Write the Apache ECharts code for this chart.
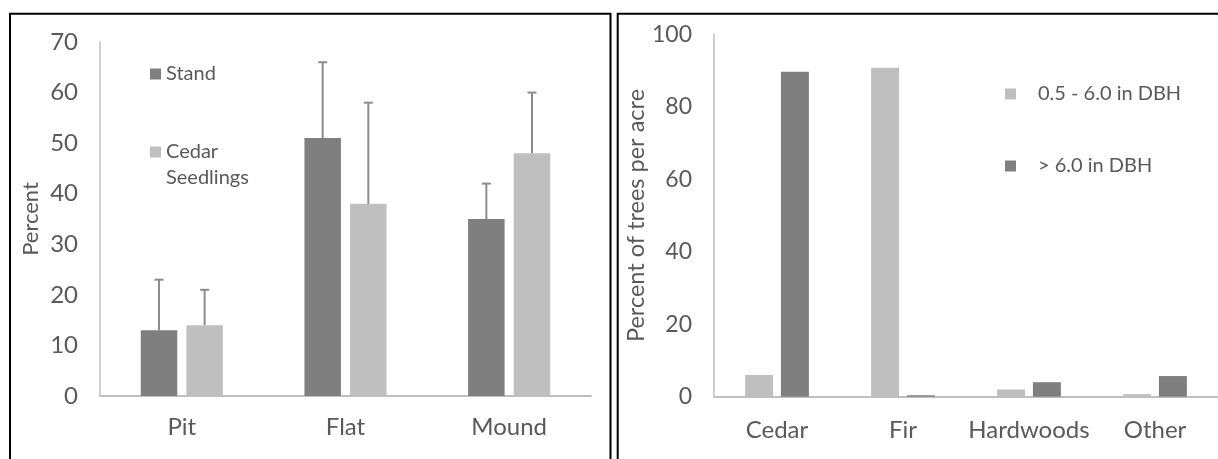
<!DOCTYPE html>
<html>
<head>
<meta charset="utf-8">
<script src="https://cdn.jsdelivr.net/npm/echarts@6/dist/echarts.min.js"></script>
<style>
  html, body { margin: 0; padding: 0; background: #fff; }
  #chart { width: 1218px; height: 459px; }
</style>
</head>
<body>
<div id="chart"></div>
<script>
// Microsite position: share of stand vs. cedar seedlings (with upper error limits)
const surfaceCats = ['Pit', 'Flat', 'Mound'];
const standPct = [13, 51, 35];
const standUpper = [23, 66, 42];
const seedlingPct = [14, 38, 48];
const seedlingUpper = [21, 58, 60];
const surfaceAxis = { min: 0, max: 70, interval: 10 };

// Species composition by diameter class
const speciesCats = ['Cedar', 'Fir', 'Hardwoods', 'Other'];
const smallDbhPct = [6, 90.8, 2, 0.7];
const largeDbhPct = [89.7, 0.4, 4, 5.7];
const speciesAxis = { min: 0, max: 100, interval: 20 };

const DARK = '#7f7f7f';
const LIGHT = '#bfbfbf';
const TEXT = '#595959';
const AXIS = '#bfbfbf';
const FONT = 'Lato';

const LEFT_BAR = 0.223, LEFT_GAP = 0.25;
const RIGHT_BAR = 0.222, RIGHT_GAP = 0.28;

// Upward-only error bar, placed over the matching bar of a two-bar group
function errorBars(name, values, upper, side) {
  return {
    type: 'custom',
    name: name + ' error',
    xAxisIndex: 0,
    yAxisIndex: 0,
    z: 5,
    silent: true,
    data: values.map((v, i) => [i, v, upper[i]]),
    renderItem(params, api) {
      const band = api.size([1, 0])[0];
      const bw = band * LEFT_BAR;
      const off = side * (bw + bw * LEFT_GAP) / 2;
      const base = api.coord([api.value(0), api.value(1)]);
      const top = api.coord([api.value(0), api.value(2)]);
      const x = base[0] + off;
      const st = { stroke: '#8c8c8c', lineWidth: 2 };
      return {
        type: 'group',
        children: [
          { type: 'line', shape: { x1: x, y1: base[1], x2: x, y2: top[1] }, style: st },
          { type: 'line', shape: { x1: x - 4.5, y1: top[1], x2: x + 4.5, y2: top[1] }, style: st }
        ]
      };
    }
  };
}

function valueAxis(gridIndex, cfg, name, fontSize, nameSize, nameGap) {
  return {
    type: 'value',
    gridIndex,
    min: cfg.min,
    max: cfg.max,
    interval: cfg.interval,
    name,
    nameLocation: 'middle',
    nameGap,
    nameTextStyle: { color: TEXT, fontSize: nameSize, fontFamily: FONT },
    axisLine: { show: true, lineStyle: { color: AXIS, width: 1.5 } },
    axisTick: { show: false },
    splitLine: { show: false },
    axisLabel: { color: TEXT, fontSize, fontFamily: FONT, margin: 22 }
  };
}

function catAxis(gridIndex, cats, margin) {
  return {
    type: 'category',
    gridIndex,
    data: cats,
    axisLine: { show: true, lineStyle: { color: AXIS, width: 2 } },
    axisTick: { show: false },
    axisLabel: { color: TEXT, fontSize: 24, fontFamily: FONT, margin, lineHeight: 28, interval: 0 }
  };
}

function legendItem(name, left, top, fontSize, lineHeight, extra) {
  return Object.assign({
    data: [name],
    left, top,
    orient: 'vertical',
    padding: 0,
    itemWidth: 11,
    itemHeight: 11,
    icon: 'rect',
    textStyle: { color: TEXT, fontSize, fontFamily: FONT, lineHeight }
  }, extra || {});
}

const chart = echarts.init(document.getElementById('chart'), null, { renderer: 'canvas' });

chart.setOption({
  animation: false,
  backgroundColor: '#fff',
  grid: [
    { left: 100, top: 42, width: 491, height: 354 },
    { left: 714, top: 34.3, width: 504, height: 362.4 }
  ],
  xAxis: [catAxis(0, surfaceCats, 17), catAxis(1, speciesCats, 20)],
  yAxis: [
    valueAxis(0, surfaceAxis, 'Percent', 24, 22, 58),
    valueAxis(1, speciesAxis, 'Percent of trees per acre', 23, 23.5, 59)
  ],
  legend: [
    legendItem('Stand', 150, 63, 20, 22),
    legendItem('Cedar Seedlings', 150, 113, 20, 26, {
      formatter: () => '\nCedar\nSeedlings'
    }),
    legendItem('0.5 - 6.0 in DBH', 1005, 82, 20, 24, {
      textStyle: { color: TEXT, fontSize: 20, fontFamily: FONT, lineHeight: 24, padding: [0, 0, 0, 17] }
    }),
    legendItem('> 6.0 in DBH', 1005, 154, 20, 24, {
      textStyle: { color: TEXT, fontSize: 20, fontFamily: FONT, lineHeight: 24, padding: [0, 0, 0, 17] }
    })
  ],
  series: [
    {
      type: 'bar', name: 'Stand', xAxisIndex: 0, yAxisIndex: 0,
      data: standPct, barWidth: (LEFT_BAR * 100) + '%', barGap: (LEFT_GAP * 100) + '%',
      itemStyle: { color: DARK }
    },
    {
      type: 'bar', name: 'Cedar Seedlings', xAxisIndex: 0, yAxisIndex: 0,
      data: seedlingPct, barWidth: (LEFT_BAR * 100) + '%', barGap: (LEFT_GAP * 100) + '%',
      itemStyle: { color: LIGHT }
    },
    errorBars('Stand', standPct, standUpper, -1),
    errorBars('Cedar Seedlings', seedlingPct, seedlingUpper, 1),
    {
      type: 'bar', name: '0.5 - 6.0 in DBH', xAxisIndex: 1, yAxisIndex: 1,
      data: smallDbhPct, barWidth: (RIGHT_BAR * 100) + '%', barGap: (RIGHT_GAP * 100) + '%',
      itemStyle: { color: LIGHT }
    },
    {
      type: 'bar', name: '> 6.0 in DBH', xAxisIndex: 1, yAxisIndex: 1,
      data: largeDbhPct, barWidth: (RIGHT_BAR * 100) + '%', barGap: (RIGHT_GAP * 100) + '%',
      itemStyle: { color: DARK }
    }
  ],
  graphic: [
    {
      type: 'rect', z: 100, silent: true,
      shape: { x: 10, y: 13.7, width: 600.5, height: 520 },
      style: { fill: 'none', stroke: '#000', lineWidth: 2 }
    },
    {
      type: 'rect', z: 100, silent: true,
      shape: { x: 617.7, y: 13.7, width: 700, height: 520 },
      style: { fill: 'none', stroke: '#000', lineWidth: 2 }
    }
  ]
});
</script>
</body>
</html>
